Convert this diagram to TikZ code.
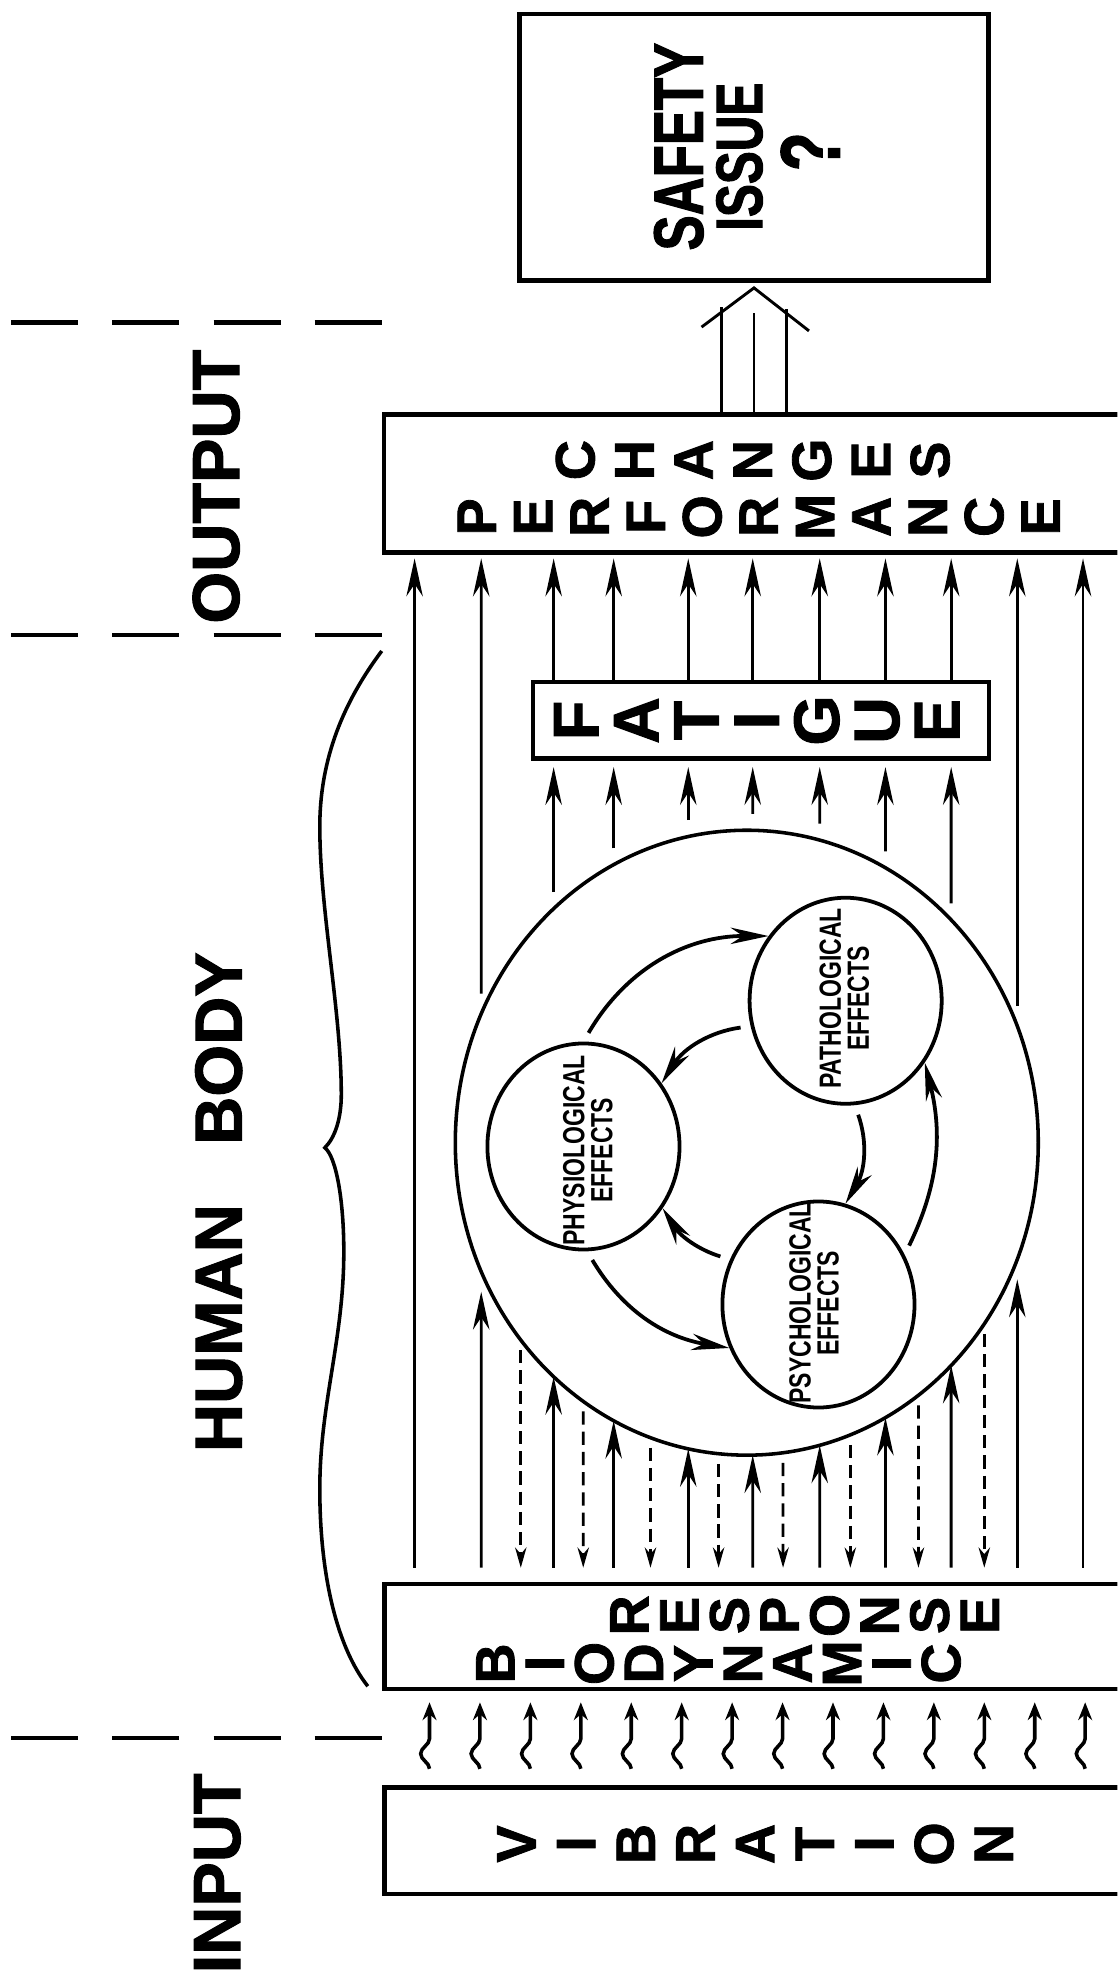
\documentclass[tikz,border=0pt]{standalone}
\usepackage{fontspec}
\setmainfont{Liberation Sans}
\newfontfamily\heavyfont[FakeBold=1.5]{Liberation Sans Bold}
\newfontfamily\narrowfont[FakeStretch=0.75]{Liberation Sans}
\newfontfamily\narrowheavy[FakeStretch=0.75,FakeBold=1.5]{Liberation Sans Bold}
\usetikzlibrary{arrows.meta,shapes.geometric,calc,decorations.pathmorphing}
\tikzset{
  >={Stealth[length=3mm,width=1.3mm]},
  box/.style={draw, line width=1pt, inner sep=0pt},
  word/.style 2 args={rotate=90, align=center, inner sep=0pt, font=\heavyfont\fontsize{#1}{#2}\selectfont},
  zone/.style={rotate=90, inner sep=0pt, font=\heavyfont\fontsize{15}{18}\selectfont},
  issue/.style={rotate=90, inner sep=0pt, font=\narrowheavy\fontsize{#1}{#1}\selectfont},
  effect/.style={draw, ellipse, line width=0.85pt, minimum width=15.2mm, minimum height=16.3mm, inner sep=0pt},
  efftxt/.style={rotate=90, align=center, inner sep=0pt, font=\narrowfont\bfseries\fontsize{6.9}{6.3}\selectfont},
  flow/.style={->, line width=0.65pt},
  back/.style={-{Stealth[length=1.6mm,width=0.9mm]}, dash pattern=on 1.05mm off 0.55mm, line width=0.6pt},
  wave/.style={-{Stealth[length=1.4mm,width=1.1mm]}, line width=0.8pt, decorate,
    decoration={snake, amplitude=0.7mm, segment length=3.8mm, post length=1.3mm}},
  cyc/.style={->, line width=0.85pt, shorten <=0.8mm},
  hollow/.style={line width=0.65pt},
  divider/.style={line width=1pt, dash pattern=on 5.3mm off 2.7mm},
}

\begin{document}
\begin{tikzpicture}[x=0.1mm, y=-0.1mm]
  \useasboundingbox (0,0) rectangle (884,1568);
  \clip (0,0) rectangle (884,1568);

  % side labels
  \draw[divider] (9,255) -- (303,255);
  \draw[divider] (9,502.5) -- (303,502.5);
  \draw[divider] (9,1375) -- (303,1375);
  \node[zone] (outlbl) at (171,385) {OUTPUT};
  \node[zone] (bodylbl) at (173,951) {HUMAN\hspace{4.7mm}BODY};
  \node[zone] (inlbl) at (172,1482) {INPUT};
  \draw[line width=0.8pt] (302,515) .. controls (272,555) and (253,600) .. (253,654)
    .. controls (253,720) and (270,800) .. (270,866) .. controls (270,885) and (265,900) .. (257,908)
    .. controls (266,915) and (272,950) .. (272,990) .. controls (272,1060) and (253,1110) .. (253,1178)
    .. controls (253,1250) and (268,1305) .. (291,1334);

  % boxes
  \node[box, minimum width=37.1mm, minimum height=21.1mm] (safety) at (596.5,116.5) {};
  \node[box, minimum width=59.6mm, minimum height=10.9mm] (perf) at (602,382.5) {};
  \node[box, minimum width=36.1mm, minimum height=6.05mm] (fat) at (602,569.8) {};
  \node[box, minimum width=59.6mm, minimum height=8.3mm] (bio) at (602.2,1294.5) {};
  \node[box, minimum width=59.6mm, minimum height=8.43mm] (vib) at (602.2,1456.2) {};

  \node[issue=15.8] (safe1) at (537,116) {SAFETY};
  \node[issue=14.8] (safe2) at (585,124) {ISSUE};
  \node[issue=19] (safe3) at (641,120) {?};

  \node[word={12.5}{13.31}] (chgw) at (595.5,364) {C\\H\\A\\N\\G\\E\\S};
  \node[word={12.5}{12.69}] (perfw) at (600.2,408.9) {P\\E\\R\\F\\O\\R\\M\\A\\N\\C\\E};
  \node[word={14.5}{13.54}] (fatw) at (598.6,570) {F\\A\\T\\I\\G\\U\\E};
  \node[word={12.5}{11.27}] (respw) at (636.5,1278) {R\\E\\S\\P\\O\\N\\S\\E};
  \node[word={12.5}{11.15}] (biow) at (568.4,1316) {B\\I\\O\\D\\Y\\N\\A\\M\\I\\C};
  \node[word={12.5}{13.43}] (vibw) at (597.4,1458.8) {V\\I\\B\\R\\A\\T\\I\\O\\N};

  % human body
  \node[draw, ellipse, line width=0.8pt, minimum width=46.12mm, minimum height=49.44mm, inner sep=0pt] (body) at (590.8,904) {};
  \node[effect] (physio) at (461.6,907) {};
  \node[effect] (patho) at (669,791.7) {};
  \node[effect] (psycho) at (647.5,1032) {};
  \node[efftxt] (physiotxt) at (465,910) {PHYSIOLOGICAL\\EFFECTS};
  \node[efftxt] (pathotxt) at (668,790) {PATHOLOGICAL\\EFFECTS};
  \node[efftxt] (psychotxt) at (644,1031) {PSYCHOLOGICAL\\EFFECTS};

  \draw[cyc] (physio.90) to[bend left=30] (patho.140);
  \draw[cyc] (patho.-85) to[bend left=25] (psycho.75);
  \draw[cyc] (physio.-88) to[bend right=25] (psycho.206);
  \draw[cyc] (patho.195) to[bend right=25] (physio.39);
  \draw[cyc] (psycho.153) to[bend left=20] (physio.-38);
  \draw[cyc] (psycho.30) to[bend right=20] (patho.-38);

  % arrows
  \foreach \x in {328,856.8}
    \draw[flow, shorten <=1.1mm, shorten >=0.3mm] (bio.north -| \x,0) -- (perf.south -| \x,0);
  \foreach \x in {380.7,804.8}{
    \pgfmathsetmacro\dy{247.2*sqrt(1-((\x-590.8)/230.6)^2)}
    \draw[flow, shorten >=0.3mm] ($(body.center)+(\x-590.8,-\dy-16)$) -- (perf.south -| \x,0);
    \draw[flow, shorten <=1.1mm] (bio.north -| \x,0) -- ($(body.center)+(\x-590.8,\dy+16)$);
  }
  \foreach \x in {438,485.5,544.5,595.5,648.5,700.5,752.5}{
    \pgfmathsetmacro\dy{247.2*sqrt(1-((\x-590.8)/230.6)^2)}
    \draw[flow, shorten >=0.3mm] (fat.north -| \x,0) -- (perf.south -| \x,0);
    \draw[flow, shorten >=0.5mm] ($(body.center)+(\x-590.8,-\dy-13)$) -- (fat.south -| \x,0);
    \draw[flow, shorten <=1.1mm] (bio.north -| \x,0) -- ($(body.center)+(\x-590.8,\dy)$);
  }
  \foreach \x in {412,461.4,514.6,568.5,619.5,672.7,726.6,778.7}{
    \pgfmathsetmacro\dy{247.2*sqrt(1-((\x-590.8)/230.6)^2)}
    \draw[back, shorten >=1.1mm] ($(body.center)+(\x-590.8,\dy+8)$) -- (bio.north -| \x,0);
  }
  \foreach \i in {0,...,13}{
    \pgfmathsetmacro\x{339.8+39.9*\i}
    \draw[wave] ($(vib.north -| \x,0)+(0,-13)$) -- ($(bio.south -| \x,0)+(0,9)$);
  }

  % output arrow
  \coordinate (tip) at ($(safety.south)+(0,4)$);
  \draw[hollow] ($(tip)+(-41.5,31)$) -- (tip) -- ($(tip)+(43.5,34)$);
  \draw[hollow] (perf.north -| 570.5,0) -- ++(0,-83);
  \draw[hollow] (perf.north -| 596.5,0) -- ++(0,-79);
  \draw[hollow] (perf.north -| 622.5,0) -- ++(0,-82);
\end{tikzpicture}
\end{document}
